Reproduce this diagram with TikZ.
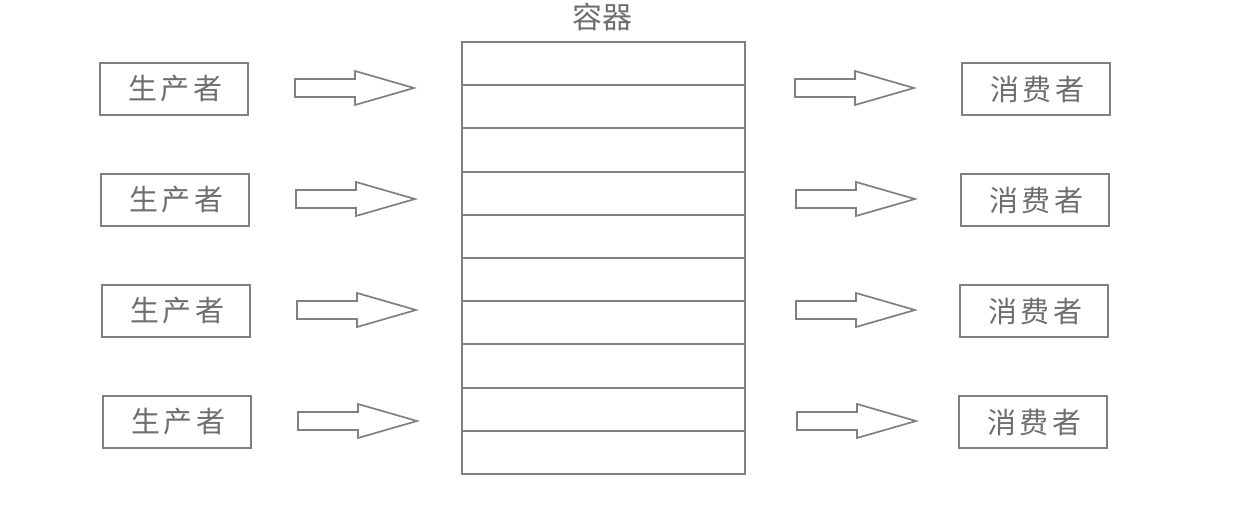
\documentclass[tikz,border=0pt]{standalone}
\usepackage{fontspec}
\newfontfamily\cjk{Noto Sans CJK SC}
\newfontfamily\cjkspaced[LetterSpace=12]{Noto Sans CJK SC}
\definecolor{linegray}{HTML}{808080}
\definecolor{textgray}{HTML}{6E6E6E}
\begin{document}
\begin{tikzpicture}[x=1pt,y=-1pt,
  agent/.style={draw=linegray,line width=1.9pt,minimum width=148pt,minimum height=52pt,inner sep=0pt,
    font=\cjkspaced\fontsize{29}{32}\selectfont,text=textgray},
  fatarrow/.style={draw=linegray,line width=1.7pt,fill=white,line join=miter},
  cell/.style={draw=linegray,line width=1.9pt}]
\useasboundingbox (0,0) rectangle (1245,518);
% container
\node[font=\cjk\fontsize{30}{32}\selectfont,text=textgray] (title) at (602,17) {容器};
\draw[cell] (462,42) rectangle (745,474);
\foreach \i in {1,...,9}{
  \draw[cell] (462,{42+43.2*\i}) -- (745,{42+43.2*\i});
}
% producers and consumers
\foreach \r/\y/\px/\cx in {1/89/174/1036, 2/200/175/1035, 3/311/176/1034, 4/422/177/1033}{
  \node[agent] (p\r) at (\px,\y) {\hspace*{3pt}生产者};
  \node[agent] (c\r) at (\cx,\y) {\hspace*{3pt}消费者};
}
% hollow arrows
\foreach \r/\y/\lx/\rx in {1/88/295/795, 2/199/296/796, 3/310/297/796, 4/421/298/797}{
  \draw[fatarrow] (\lx,\y-9) -- (\lx+60,\y-9) -- (\lx+60,\y-17) -- (\lx+119,\y) -- (\lx+60,\y+17) -- (\lx+60,\y+9) -- (\lx,\y+9) -- cycle;
  \draw[fatarrow] (\rx,\y-9) -- (\rx+60,\y-9) -- (\rx+60,\y-17) -- (\rx+119,\y) -- (\rx+60,\y+17) -- (\rx+60,\y+9) -- (\rx,\y+9) -- cycle;
}
\end{tikzpicture}
\end{document}
